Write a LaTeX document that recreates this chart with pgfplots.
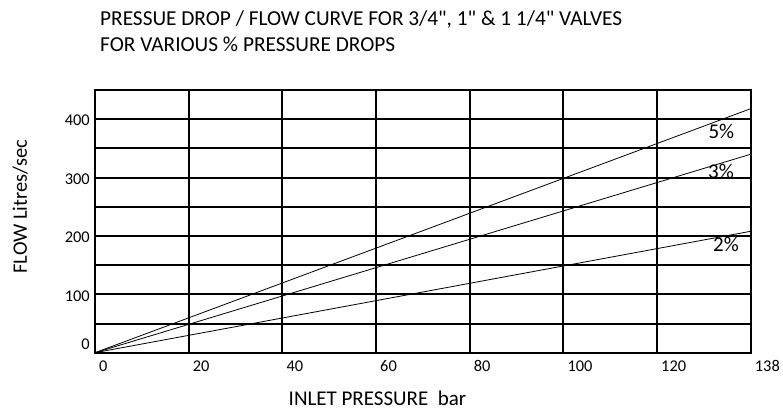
\documentclass[border=0pt]{standalone}
\usepackage{fontspec}
\setmainfont{Carlito}[Ligatures=TeXOff]
\usepackage{pgfplots}
\pgfplotsset{compat=1.18}
\begin{document}
\begin{tikzpicture}
\path[use as bounding box] (-95bp,-58.3bp) rectangle (688bp,352.7bp);
\begin{axis}[
  at={(0,0)}, anchor=south west,
  scale only axis, width=655.7bp, height=262.7bp,
  xmin=0, xmax=140, ymin=0, ymax=450,
  xtick={0,20,...,140}, xticklabels={0,20,40,60,80,100,120,138},
  ytick={0,50,...,450}, yticklabels={\raisebox{20bp}{0},,100,,200,,300,,400,},
  grid=major, major grid style={black, line width=2bp},
  axis line style={black, line width=2bp},
  major tick length=0pt,
  tick label style={font=\fontsize{16.4bp}{19bp}\selectfont},
  /pgf/number format/assume math mode=true,
  xticklabel style={anchor=base west, inner sep=0pt, xshift=4bp, yshift=-18.5bp},
  yticklabel style={anchor=east, inner sep=0pt, xshift=-5bp, yshift=-1.5bp},
  axis on top,
]
\addplot[black, line width=0.8bp, no marks] coordinates {(0,0) (140,418)};
\addplot[black, line width=0.8bp, no marks] coordinates {(0,0) (140,340)};
\addplot[black, line width=0.8bp, no marks] coordinates {(0,0) (140,208)};
\node[anchor=base west, inner sep=0pt, font=\fontsize{21bp}{26bp}\selectfont] at (axis cs:130.95,367.3) {5\%};
\node[anchor=base west, inner sep=0pt, font=\fontsize{21bp}{26bp}\selectfont] at (axis cs:130.88,298.5) {3\%};
\node[anchor=base west, inner sep=0pt, font=\fontsize{21bp}{26bp}\selectfont] at (axis cs:131.95,173.0) {2\%};
\end{axis}
\node[anchor=base west, inner sep=0pt, font=\fontsize{21.3bp}{26bp}\selectfont] at (5bp,326.7bp) {PRESSUE DROP / FLOW CURVE FOR 3/4", 1" \& 1 1/4" VALVES};
\node[anchor=base west, inner sep=0pt, font=\fontsize{21.3bp}{26bp}\selectfont] at (5bp,300.7bp) {FOR VARIOUS \% PRESSURE DROPS};
\node[anchor=base, inner sep=0pt, font=\fontsize{21bp}{26bp}\selectfont] at (282.5bp,-52.3bp) {INLET PRESSURE\ \ bar};
\node[anchor=base, rotate=90, inner sep=0pt, font=\fontsize{20.5bp}{26bp}\selectfont] at (-68bp,146bp) {FLOW Litres/sec};
\end{tikzpicture}
\end{document}
